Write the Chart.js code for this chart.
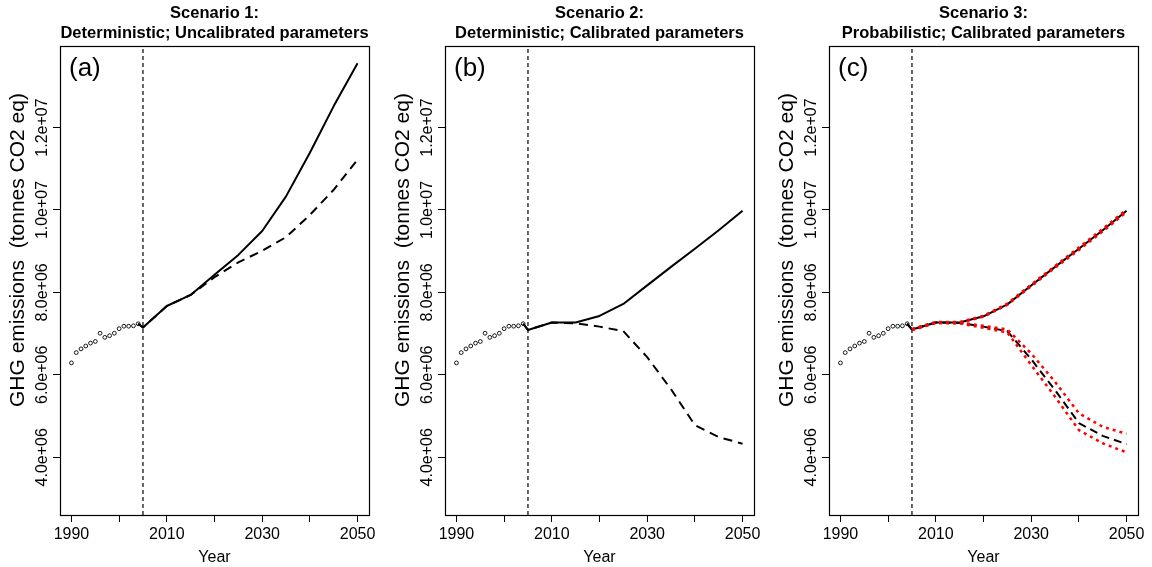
<!DOCTYPE html>
<html><head><meta charset="utf-8">
<script src="https://cdn.jsdelivr.net/npm/chart.js@4.4.1/dist/chart.umd.min.js"></script>
<style>
html,body{margin:0;padding:0;background:#fff;}
#wrap{position:relative;width:1152px;height:567px;overflow:hidden;background:#fff;}
canvas{position:absolute;top:0;}
</style></head><body>
<div id="wrap">
<canvas id="c0" width="384" height="567" style="left:0px"></canvas>
<canvas id="c1" width="384" height="567" style="left:385px"></canvas>
<canvas id="c2" width="383" height="567" style="left:769px"></canvas>
</div>
<script>
// ---------- data ----------
const histYears  = [1990,1991,1992,1993,1994,1995,1996,1997,1998,1999,2000,2001,2002,2003,2004];
const histValues = [6.29e6,6.54e6,6.63e6,6.70e6,6.77e6,6.81e6,7.01e6,6.91e6,6.95e6,7.01e6,7.12e6,7.18e6,7.18e6,7.19e6,7.24e6];

const projYears = [2004,2005,2010,2015,2020,2025,2030,2035,2040,2045,2050];

const s1Solid  = [7.24e6,7.15e6,7.67e6,7.94e6,8.43e6,8.91e6,9.49e6,10.33e6,11.39e6,12.52e6,13.56e6];
const s1Dashed = [7.24e6,7.15e6,7.67e6,7.94e6,8.37e6,8.73e6,9.01e6,9.34e6,9.88e6,10.49e6,11.22e6];

const s2Solid  = [7.24e6,7.09e6,7.27e6,7.27e6,7.43e6,7.72e6,8.17e6,8.62e6,9.06e6,9.51e6,9.98e6];
const s2Dashed = [7.24e6,7.09e6,7.27e6,7.25e6,7.17e6,7.06e6,6.43e6,5.65e6,4.78e6,4.49e6,4.33e6];

const s3UpperMean = [7.24e6,7.10e6,7.27e6,7.27e6,7.42e6,7.71e6,8.17e6,8.62e6,9.06e6,9.51e6,9.98e6];
const s3UpperHi   = [null,7.11e6,7.28e6,7.28e6,7.43e6,7.73e6,8.19e6,8.64e6,9.09e6,9.54e6,10.01e6];
const s3UpperLo   = [null,7.09e6,7.26e6,7.26e6,7.41e6,7.70e6,8.15e6,8.60e6,9.03e6,9.48e6,9.95e6];
const s3LowerMean = [7.24e6,7.10e6,7.27e6,7.26e6,7.17e6,7.06e6,6.38e6,5.63e6,4.83e6,4.52e6,4.32e6];
const s3LowerHi   = [null,7.11e6,7.28e6,7.27e6,7.19e6,7.10e6,6.52e6,5.83e6,5.07e6,4.74e6,4.57e6];
const s3LowerLo   = [null,7.09e6,7.26e6,7.25e6,7.14e6,7.03e6,6.24e6,5.47e6,4.66e6,4.34e6,4.12e6];

const policyYear = 2005;

const xTickValues = [1990,2000,2010,2020,2030,2040,2050];
const xTickLabels = ['1990','','2010','','2030','','2050'];
const yTickValues = [4e6,6e6,8e6,1e7,1.2e7];
const yTickLabels = ['4.0e+06','6.0e+06','8.0e+06','1.0e+07','1.2e+07'];

const panelTitles = [
  ['Scenario 1:','Deterministic; Uncalibrated parameters'],
  ['Scenario 2:','Deterministic; Calibrated parameters'],
  ['Scenario 3:','Probabilistic; Calibrated parameters']
];
const panelLabels = ['(a)','(b)','(c)'];
const xAxisTitle = 'Year';
const yAxisTitle = 'GHG emissions  (tonnes CO2 eq)';

// ---------- helpers ----------
const X_MIN = 1987.6, X_MAX = 2052.4;
const Y_MIN = 2.6e6, Y_MAX = 1.398e7;
const FONT = "'Liberation Sans', Arial, Helvetica, sans-serif";

function pts(xs, ys){ return xs.map((x,i)=>({x:x, y:ys[i]})); }

function lineDs(ys, opts){
  return Object.assign({
    type:'line', data: pts(projYears, ys), borderColor:'#000', borderWidth:2,
    pointRadius:0, tension:0, fill:false, borderJoinStyle:'round', spanGaps:false
  }, opts || {});
}
function histDs(){
  return {type:'line', data: pts(histYears, histValues), showLine:false,
    pointRadius:1.9, pointBorderWidth:0.9, pointBorderColor:'#000',
    pointBackgroundColor:'rgba(0,0,0,0)', borderColor:'#000'};
}
function vlineDs(){
  return {type:'line', data:[{x:policyYear,y:Y_MIN},{x:policyYear,y:Y_MAX}],
    borderColor:'#000', borderWidth:1.2, borderDash:[4,3], pointRadius:0};
}

const framePlugin = {
  id:'frame',
  afterDraw(chart, args, opts){
    const {ctx, chartArea:a} = chart;
    ctx.save();
    ctx.strokeStyle = '#000'; ctx.lineWidth = 1.2;
    ctx.strokeRect(Math.round(a.left)+0.5, Math.round(a.top)+0.5,
                   Math.round(a.right - a.left), Math.round(a.bottom - a.top));
    ctx.fillStyle = '#000';
    ctx.font = '26px ' + FONT;
    ctx.textBaseline = 'top'; ctx.textAlign = 'left';
    ctx.fillText(opts.label, a.left + 9, a.top + 10);
    // y axis title (rotated)
    ctx.translate(a.left - 41.5, a.bottom - 108);
    ctx.rotate(-Math.PI/2);
    ctx.font = '21px ' + FONT;
    ctx.textBaseline = 'middle'; ctx.textAlign = 'left';
    ctx.fillText(opts.yTitle, 0, 0);
    ctx.restore();
  }
};

function makeChart(id, idx, datasets, rightPad){
  return new Chart(document.getElementById(id), {
    data:{datasets:datasets},
    options:{
      responsive:false, animation:false, devicePixelRatio:1,
      layout:{padding:{left:0, right:rightPad, top:0, bottom:0}},
      plugins:{
        legend:{display:false}, tooltip:{enabled:false},
        title:{display:true, text:panelTitles[idx], fullSize:false, color:'#000',
          font:{family:FONT, size:16.5, weight:'bold', lineHeight:1.21},
          padding:{top:3.6, bottom:2.4}},
        frame:{label:panelLabels[idx], yTitle:yAxisTitle}
      },
      scales:{
        x:{type:'linear', min:X_MIN, max:X_MAX,
          afterBuildTicks:(s)=>{ s.ticks = xTickValues.map(v=>({value:v})); },
          afterFit:(s)=>{ s.height = 52; },
          ticks:{autoSkip:false, maxRotation:0, minRotation:0, color:'#000', padding:3,
            font:{family:FONT, size:16},
            callback:(v)=>{ const i = xTickValues.indexOf(v); return i>=0 ? xTickLabels[i] : ''; }},
          grid:{display:true, drawOnChartArea:false, drawTicks:true, tickLength:7, color:'#000', lineWidth:1},
          border:{display:false},
          title:{display:true, text:xAxisTitle, color:'#000', font:{family:FONT, size:16}, padding:{top:0,bottom:0}}
        },
        y:{type:'linear', min:Y_MIN, max:Y_MAX,
          afterBuildTicks:(s)=>{ s.ticks = yTickValues.map(v=>({value:v})); },
          afterFit:(s)=>{ s.width = 60; },
          ticks:{autoSkip:false, minRotation:90, maxRotation:90, crossAlign:'center', padding:-19, color:'#000',
            font:{family:FONT, size:16},
            callback:(v)=>{ const i = yTickValues.indexOf(v); return i>=0 ? yTickLabels[i] : ''; }},
          grid:{display:true, drawOnChartArea:false, drawTicks:true, tickLength:7, color:'#000', lineWidth:1},
          border:{display:false},
          title:{display:false}
        }
      }
    },
    plugins:[framePlugin]
  });
}

makeChart('c0', 0, [
  lineDs(s1Solid),
  lineDs(s1Dashed, {borderDash:[9,6]}),
  histDs(), vlineDs()
], 15);

makeChart('c1', 1, [
  lineDs(s2Solid),
  lineDs(s2Dashed, {borderDash:[9,6]}),
  histDs(), vlineDs()
], 15);

makeChart('c2', 2, [
  lineDs(s3UpperHi, {borderColor:'#ff0000', borderWidth:2.5, borderDash:[3,4]}),
  lineDs(s3UpperLo, {borderColor:'#ff0000', borderWidth:2.5, borderDash:[3,4]}),
  lineDs(s3LowerHi, {borderColor:'#ff0000', borderWidth:2.5, borderDash:[3,4]}),
  lineDs(s3LowerLo, {borderColor:'#ff0000', borderWidth:2.5, borderDash:[3,4]}),
  lineDs(s3UpperMean),
  lineDs(s3LowerMean, {borderDash:[8,5]}),
  histDs(), vlineDs()
], 14);
</script>
</body></html>
